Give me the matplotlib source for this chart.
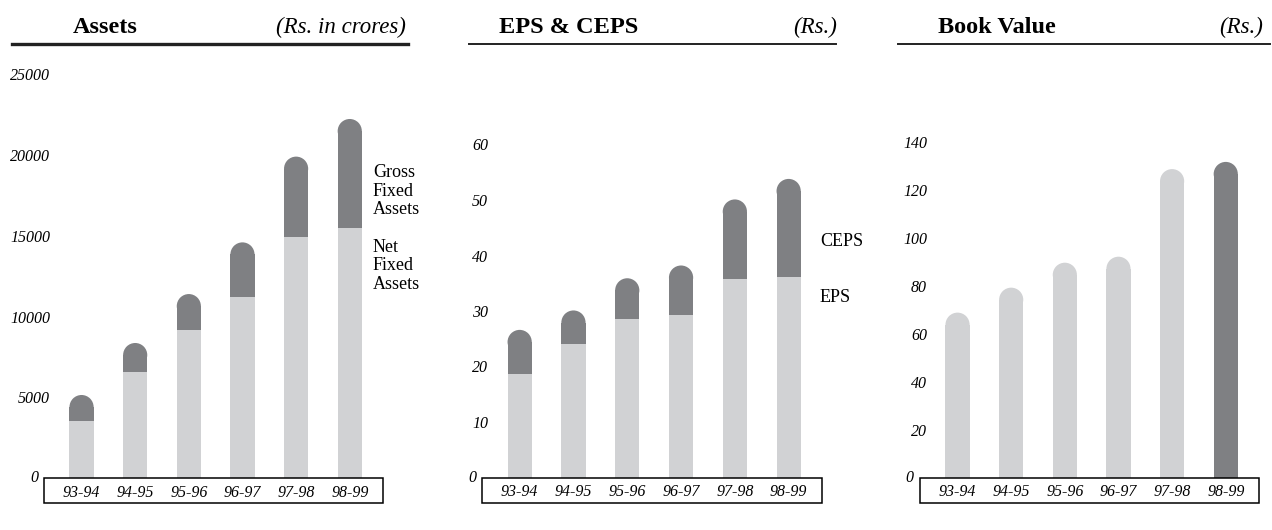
import matplotlib
matplotlib.use("Agg")
import matplotlib.pyplot as plt
from matplotlib.patches import Ellipse, Rectangle
from matplotlib.lines import Line2D

# data
years = ["93-94", "94-95", "95-96", "96-97", "97-98", "98-99"]
gross_fixed = [5140, 8360, 11390, 14590, 19900, 22230]
net_fixed = [3550, 6580, 9160, 11230, 14940, 15500]
ceps = [26.6, 30.1, 35.9, 38.2, 50.1, 53.8]
eps = [18.6, 24.1, 28.6, 29.3, 35.8, 36.2]
book_value = [68.7, 79.1, 89.5, 92.0, 128.5, 131.5]
assets_ticks = [5000, 10000, 15000, 20000, 25000]
eps_ticks = [10, 20, 30, 40, 50, 60]
bv_ticks = [20, 40, 60, 80, 100, 120, 140]

W, H = 1272, 530
DARK = "#7f8083"
LIGHT = "#d1d2d4"
SERIF = "Liberation Serif"

plt.rcParams["font.family"] = SERIF

fig = plt.figure(figsize=(W / 100, H / 100), dpi=100)

BAR_W = 0.45
XLIM = (-0.7, 5.62)


def make_axes(left, right, bottom, top, scale):
    """axes placed in pixel coords; scale = pixels per data unit"""
    ax = fig.add_axes([left / W, 1 - bottom / H, (right - left) / W, (bottom - top) / H])
    ax.set_xlim(*XLIM)
    ax.set_ylim(0, (bottom - top) / scale)
    for s in ax.spines.values():
        s.set_visible(False)
    ax.patch.set_visible(False)
    return ax


def rounded_bar(ax, x, top, bottom, color, scale):
    # bar with a half-circle cap of radius = half the bar width
    px_per_x = ax.bbox.width / (XLIM[1] - XLIM[0])
    r_px = BAR_W / 2 * px_per_x
    ry = r_px / scale
    ax.bar(x, top - ry - bottom, bottom=bottom, width=BAR_W, color=color, linewidth=0)
    ax.add_patch(Ellipse((x, top - ry), BAR_W, 2 * ry, color=color, linewidth=0))


def decorate(ax, ticks, pad_px):
    ax.set_xticks(range(len(years)), years, fontstyle="italic", fontsize=11.5)
    ax.tick_params(axis="x", length=0, pad=5)
    ax.set_yticks(ticks, [str(t) for t in ticks], fontstyle="italic", fontsize=11.5)
    ax.tick_params(axis="y", length=0, pad=-pad_px * 0.72)
    ax.annotate("0", xy=(0, 0), xycoords=("axes fraction", "data"),
                xytext=(-pad_px, 0), textcoords="offset pixels",
                ha="right", va="center", fontstyle="italic", fontsize=11.5)
    box_h = 25 / ax.bbox.height
    ax.add_patch(Rectangle((0, -box_h), 1, box_h, transform=ax.transAxes,
                           fill=False, edgecolor="black", linewidth=1.1, clip_on=False))


def header(title, unit, title_x, unit_right, line_x0, line_x1, lw):
    fig.text(title_x / W, 1 - 33 / H, title, fontsize=17.5, fontweight="bold",
             va="baseline", ha="left")
    fig.text(unit_right / W, 1 - 33 / H, unit, fontsize=16.5, fontstyle="italic",
             va="baseline", ha="right")
    fig.add_artist(Line2D([line_x0 / W, line_x1 / W], [1 - 44 / H, 1 - 44 / H],
                          color="#222222", linewidth=lw))


# Assets
s1 = 16.15 / 1000
ax1 = make_axes(44, 383, 478, 60, s1)
for i in range(len(years)):
    ax1.bar(i, net_fixed[i], width=BAR_W, color=LIGHT, linewidth=0)
    rounded_bar(ax1, i, gross_fixed[i], net_fixed[i], DARK, s1)
decorate(ax1, assets_ticks, 6)
header("Assets", "(Rs. in crores)", 73, 406, 12, 408, 2.4)
fig.text(373 / W, 1 - 191 / H, "Gross\nFixed\nAssets", fontsize=13, va="center",
         ha="left", linespacing=1.1)
fig.text(373 / W, 1 - 266 / H, "Net\nFixed\nAssets", fontsize=13, va="center",
         ha="left", linespacing=1.1)

# EPS & CEPS
s2 = 5.55
ax2 = make_axes(482, 822, 477.5, 60, s2)
for i in range(len(years)):
    ax2.bar(i, eps[i], width=BAR_W, color=LIGHT, linewidth=0)
    rounded_bar(ax2, i, ceps[i], eps[i], DARK, s2)
decorate(ax2, eps_ticks, 6)
header("EPS & CEPS", "(Rs.)", 499, 837, 469, 836, 1.4)
fig.text(820 / W, 1 - 241 / H, "CEPS", fontsize=13, va="center", ha="left")
fig.text(820 / W, 1 - 297 / H, "EPS", fontsize=13, va="center", ha="left")

# Book Value
s3 = 2.4
ax3 = make_axes(920, 1259, 477.5, 60, s3)
for i in range(len(years)):
    col = DARK if i == len(years) - 1 else LIGHT
    rounded_bar(ax3, i, book_value[i], 0, col, s3)
decorate(ax3, bv_ticks, 7)
header("Book Value", "(Rs.)", 938, 1263, 898, 1270, 1.4)

fig.savefig("out.png", dpi=100)
